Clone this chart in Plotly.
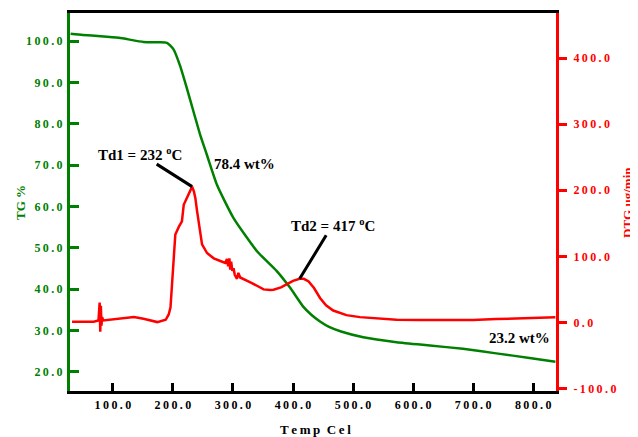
import plotly.graph_objects as go

# ---- data ----
tg_temp = [29.6, 50, 79.6, 110, 151, 175, 190, 201, 212, 223.6, 234.6, 245.7, 256.8, 273.5,
           301, 340, 373, 395, 417, 430, 445, 460, 480, 517, 572.5, 628, 683, 738.6, 794, 837]
tg_wt = [101.8, 101.5, 101.2, 100.8, 99.8, 99.7, 99.6, 98.0, 94.0, 88.4, 82.8, 77.2, 72.4, 65.2,
         57.2, 49.2, 44.4, 40.4, 35.8, 33.9, 32.2, 30.9, 29.8, 28.4, 27.2, 26.4, 25.6, 24.5,
         23.4, 22.5]

dtg_temp = [32, 50, 68, 76, 78, 79, 80, 81, 82, 84, 96, 115, 135, 151, 165, 174, 188, 193, 196,
            199, 201, 204, 210, 215, 218, 222, 226, 229, 232, 235, 237.4, 240, 243, 248.5, 256.8,
            268, 279, 287, 290, 292, 294, 295.5, 297, 299, 301, 303, 306.7, 309, 312, 320, 329,
            340, 351, 362, 367.5, 380, 390, 400, 411, 418, 426, 435, 445, 455, 467, 489, 511.5,
            540, 572.5, 610, 655, 700, 738.6, 794, 837]
dtg_val = [1, 1, 1, 3, 30, -14, 25, -5, 8, 3, 4, 6, 8, 5.5, 2, 0.5, 4, 12, 23,
           63, 103, 133, 145, 153, 178, 186, 193, 200, 205.5, 198, 188, 170, 153, 118, 105,
           97, 93, 90, 96, 85, 97, 80, 92, 78, 82, 72, 66, 75, 68, 64, 60.5,
           55.5, 50, 49, 49.5, 53, 58, 63, 66, 66, 62, 52, 37, 26, 18, 11, 8,
           6, 4, 3.5, 3, 3.5, 5, 6.5, 8]

x_ticks = [100, 200, 300, 400, 500, 600, 700, 800]
tg_ticks = [20, 30, 40, 50, 60, 70, 80, 90, 100]
dtg_ticks = [-100, 0, 100, 200, 300, 400]

peak_temps = [232, 411]
peak_dtg = [205.5, 66]
peak_labels = ["Td1 = 232 <sup>o</sup>C", "Td2 = 417 <sup>o</sup>C"]
residue_labels = ["78.4 wt%", "23.2 wt%"]

x_title = "Temp Cel"
tg_title = "TG %"
dtg_title = "DTG ug/min"

GREEN = "#008000"
RED = "#FF0000"
FONT = "Liberation Serif"
TS = "\u2009"


def spaced(v):
    return TS.join(f"{v:.1f}")


def spaced_text(s):
    return "\u00a0\u00a0".join(TS.join(w) for w in s.split(" "))


fig = go.Figure()
fig.add_trace(go.Scatter(x=tg_temp, y=tg_wt, mode="lines", yaxis="y",
                         line=dict(color=GREEN, width=2.5, shape="spline", smoothing=0.5),
                         showlegend=False))
fig.add_trace(go.Scatter(x=dtg_temp, y=dtg_val, mode="lines", yaxis="y2",
                         line=dict(color=RED, width=2.5), showlegend=False))


def tickfont(c):
    return dict(family=FONT, size=12, color=c, weight="bold")


# the page adds an 8px body margin, so the figure is sized/offset to compensate
fig.update_layout(
    width=630, height=429,
    margin=dict(l=62, r=82, t=2, b=46),
    paper_bgcolor="white", plot_bgcolor="white",
    xaxis=dict(range=[28.6, 838], tickvals=x_ticks, ticktext=[spaced(v) for v in x_ticks],
               ticks="inside", ticklen=8, tickwidth=3, tickcolor="black",
               showline=True, linecolor="black", linewidth=2.5, mirror=True,
               showgrid=False, zeroline=False, tickfont=tickfont("black"),
               ticklabelstandoff=1),
    yaxis=dict(range=[15.4, 106.8], tickvals=tg_ticks, ticktext=[spaced(v) for v in tg_ticks],
               ticks="inside", ticklen=9, tickwidth=3, tickcolor=GREEN,
               showline=True, linecolor=GREEN, linewidth=3, ticklabelstandoff=2,
               showgrid=False, zeroline=False, tickfont=tickfont(GREEN)),
    yaxis2=dict(range=[-103.8, 468.3], tickvals=dtg_ticks,
                ticktext=[spaced(v) for v in dtg_ticks], overlaying="y", side="right",
                ticks="outside", ticklen=8, tickwidth=3, tickcolor=RED,
                showline=True, linecolor=RED, linewidth=3,
                showgrid=False, zeroline=False, tickfont=tickfont(RED),
                ticklabelstandoff=4),
)

# axis titles
def titlefont(c):
    return dict(family=FONT, size=13, color=c, weight="bold")


fig.add_annotation(x=-0.103, y=0.5, xref="paper", yref="paper", text=tg_title,
                   textangle=-90, showarrow=False, font=titlefont(GREEN),
                   xanchor="center", yanchor="middle")
fig.add_annotation(x=1.146, y=0.5, xref="paper", yref="paper", text=dtg_title,
                   textangle=-90, showarrow=False, font=titlefont(RED),
                   xanchor="center", yanchor="middle")
fig.add_annotation(x=0.506, y=-0.102, xref="paper", yref="paper", text=spaced_text(x_title),
                   showarrow=False, font=titlefont("black"),
                   xanchor="center", yanchor="middle")

annfont = dict(family=FONT, size=15, color="black", weight="bold")
offsets = [(-52, -33), (33, -54)]
for t, v, lab, (ax, ay) in zip(peak_temps, peak_dtg, peak_labels, offsets):
    fig.add_annotation(x=t, y=v, xref="x", yref="y2", text=lab, showarrow=True,
                       arrowhead=0, arrowwidth=3, arrowcolor="black", ax=ax, ay=ay,
                       font=annfont)

fig.add_annotation(x=318.8, y=70.3, xref="x", yref="y", text=residue_labels[0],
                   showarrow=False, font=annfont)
fig.add_annotation(x=776.5, y=28.1, xref="x", yref="y", text=residue_labels[1],
                   showarrow=False, font=annfont)

fig.write_html("out.html")
